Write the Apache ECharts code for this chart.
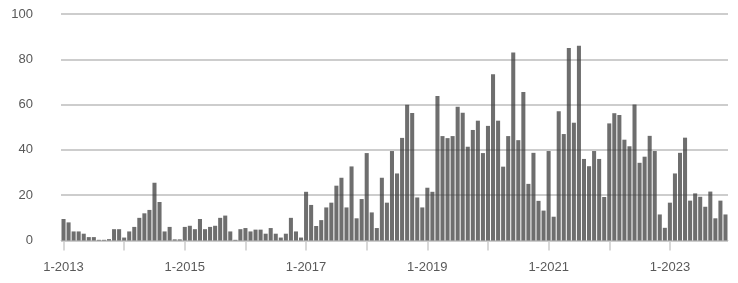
<!DOCTYPE html>
<html>
<head>
<meta charset="utf-8">
<script src="https://cdn.jsdelivr.net/npm/echarts@6/dist/echarts.min.js"></script>
<style>
  html, body { margin: 0; padding: 0; background: #fff; }
  #chart { width: 738px; height: 283px; }
</style>
</head>
<body>
<div id="chart"></div>
<script>
// monthly values, Jan..Dec
const years = [2013, 2014, 2015, 2016, 2017, 2018, 2019, 2020, 2021, 2022, 2023];
const v2013 = [9.5, 8, 4, 4, 3, 1.5, 1.5, 0.3, 0.3, 0.6, 5, 5];
const v2014 = [1.3, 4, 6, 10, 12, 13.5, 25.5, 17, 4, 6, 0.5, 0.5];
const v2015 = [6, 6.5, 5, 9.5, 5, 6, 6.5, 10, 11, 4, 0.3, 5];
const v2016 = [5.5, 4, 4.8, 4.8, 3, 5.5, 3, 1.3, 3, 10, 4, 1.3];
const v2017 = [21.5, 15.7, 6.4, 9, 14.6, 16.7, 24.2, 27.7, 14.6, 32.7, 9.8, 18.3];
const v2018 = [38.6, 12.4, 5.5, 27.7, 16.7, 39.5, 29.6, 45.3, 59.9, 56.3, 19, 14.6];
const v2019 = [23.3, 21.5, 63.8, 46.1, 45.2, 46.1, 59, 56.4, 41.4, 48.8, 52.9, 38.6];
const v2020 = [50.6, 73.4, 52.9, 32.6, 46.1, 83, 44.3, 65.6, 25, 38.7, 17.5, 13.2];
const v2021 = [39.5, 10.5, 57.1, 47, 85, 52, 86, 36, 32.8, 39.5, 36, 19.2];
const v2022 = [51.7, 56.2, 55.4, 44.5, 41.6, 60, 34.3, 37, 46.2, 39.5, 11.5, 5.6];
const v2023 = [16.7, 29.6, 38.7, 45.4, 17.6, 20.8, 19.3, 14.9, 21.6, 9.8, 17.6, 11.5];
const yTicks = [0, 20, 40, 60, 80, 100];

const values = [].concat(v2013, v2014, v2015, v2016, v2017, v2018, v2019, v2020, v2021, v2022, v2023);
const categories = [];
years.forEach(y => {
  for (let m = 1; m <= 12; m++) categories.push(m + '-' + y);
});

const chart = echarts.init(document.getElementById('chart'));
chart.setOption({
  animation: false,
  grid: { left: 61, right: 10, top: 14, bottom: 42.5 },
  xAxis: {
    type: 'category',
    data: categories,
    boundaryGap: true,
    axisLine: { show: true, lineStyle: { color: '#cccccc', width: 1 } },
    axisTick: {
      show: true,
      alignWithLabel: true,
      interval: 11,
      length: 10,
      lineStyle: { color: '#cccccc', width: 1.5 }
    },
    axisLabel: {
      interval: 23,
      margin: 20,
      color: '#595959',
      fontSize: 13,
      fontFamily: 'Liberation Sans'
    }
  },
  yAxis: {
    type: 'value',
    min: yTicks[0],
    max: yTicks[yTicks.length - 1],
    interval: 20,
    axisLine: { show: false },
    axisTick: { show: false },
    axisLabel: {
      margin: 28,
      color: '#595959',
      fontSize: 13,
      fontFamily: 'Liberation Sans'
    },
    splitLine: {
      show: true,
      lineStyle: { color: '#bdbdbd', width: 1.5 }
    }
  },
  series: [
    {
      type: 'bar',
      data: values,
      barCategoryGap: '20%',
      itemStyle: { color: 'rgba(60, 60, 60, 0.74)' }
    }
  ]
});
</script>
</body>
</html>
